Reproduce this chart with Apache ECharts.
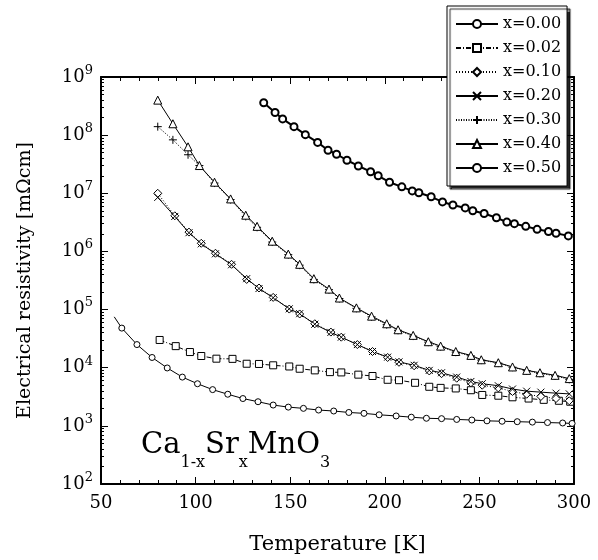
<!DOCTYPE html>
<html>
<head>
<meta charset="utf-8">
<script src="https://cdn.jsdelivr.net/npm/echarts@6/dist/echarts.min.js"></script>
<style>
html, body { margin: 0; padding: 0; background: #fff; }
#main { width: 598px; height: 560px; }
</style>
</head>
<body>
<div id="main"></div>
<script>
// legend names, one per Sr content
var names = ['x=0.00', 'x=0.02', 'x=0.10', 'x=0.20', 'x=0.30', 'x=0.40', 'x=0.50'];

// temperature [K] / resistivity [mOhm cm]
var t000 = [57, 61, 69, 77, 85, 93, 101, 109, 117, 125, 133, 141, 149, 157, 165, 173, 181, 189, 197, 206, 214, 222, 230, 238, 246, 254, 262, 270, 278, 286, 294, 299];
var r000 = [7.5e4, 4.8e4, 2.5e4, 1.5e4, 9.9e3, 6.9e3, 5.3e3, 4.2e3, 3.5e3, 2.95e3, 2.6e3, 2.28e3, 2.1e3, 2.0e3, 1.87e3, 1.8e3, 1.7e3, 1.64e3, 1.55e3, 1.48e3, 1.41e3, 1.35e3, 1.33e3, 1.29e3, 1.26e3, 1.22e3, 1.2e3, 1.18e3, 1.16e3, 1.14e3, 1.12e3, 1.1e3];

var t002 = [81, 89.5, 97, 103, 111, 119.5, 127, 133.5, 141, 149.5, 155, 163, 171, 177, 186, 193.5, 201.5, 207.5, 216, 223.5, 229.5, 237.5, 245.5, 251.5, 260, 267.5, 276, 284, 292, 298];
var r002 = [3.0e4, 2.35e4, 1.86e4, 1.59e4, 1.43e4, 1.42e4, 1.17e4, 1.16e4, 1.1e4, 1.05e4, 9.6e3, 9.0e3, 8.4e3, 8.3e3, 7.6e3, 7.2e3, 6.2e3, 6.1e3, 5.5e3, 4.7e3, 4.5e3, 4.4e3, 4.1e3, 3.4e3, 3.3e3, 3.1e3, 2.95e3, 2.8e3, 2.7e3, 2.6e3];

var tLow = [80, 89, 96.5, 103, 110.5, 119, 127, 133.5, 141, 149.5, 155, 163, 171.5, 177, 185.5, 193.5, 201.5, 207.5, 215.5, 223.5, 230, 238, 245.5, 251.5, 260, 267.5, 275, 282.5, 290.5, 297.5];
var r010 = [1.0e7, 4.1e6, 2.15e6, 1.38e6, 9.3e5, 6.0e5, 3.3e5, 2.35e5, 1.62e5, 1.02e5, 8.4e4, 5.7e4, 4.1e4, 3.35e4, 2.5e4, 1.9e4, 1.5e4, 1.24e4, 1.08e4, 8.8e3, 7.9e3, 6.6e3, 5.5e3, 5.0e3, 4.5e3, 3.9e3, 3.5e3, 3.2e3, 2.95e3, 2.7e3];
var r020 = [8.5e6, 4.0e6, 2.1e6, 1.35e6, 9.1e5, 5.9e5, 3.4e5, 2.3e5, 1.6e5, 1.03e5, 8.5e4, 5.6e4, 4.05e4, 3.35e4, 2.5e4, 1.9e4, 1.52e4, 1.26e4, 1.1e4, 9.0e3, 8.2e3, 6.9e3, 5.8e3, 5.3e3, 4.9e3, 4.3e3, 3.95e3, 3.8e3, 3.65e3, 3.55e3];

var tHigh = [80, 88, 96, 102, 110, 118.5, 126.5, 132.5, 140.5, 149, 155, 162.5, 170.5, 176, 185, 193, 201, 207, 215, 223, 229.5, 237.5, 245.5, 251, 260, 267.5, 275, 282, 290, 297.5];
var r030 = [1.4e8, 8.3e7, 4.6e7, 3.0e7, 1.5e7, 7.8e6, 4.0e6, 2.6e6, 1.45e6, 8.8e5, 5.8e5, 3.3e5, 2.2e5, 1.55e5, 1.05e5, 7.5e4, 5.5e4, 4.4e4, 3.5e4, 2.75e4, 2.3e4, 1.85e4, 1.6e4, 1.35e4, 1.2e4, 1.02e4, 8.9e3, 8.0e3, 7.2e3, 6.3e3];
var r040 = [4.0e8, 1.57e8, 6.3e7, 3.0e7, 1.55e7, 8.0e6, 4.2e6, 2.7e6, 1.5e6, 9.0e5, 6.0e5, 3.4e5, 2.25e5, 1.58e5, 1.07e5, 7.7e4, 5.7e4, 4.5e4, 3.6e4, 2.8e4, 2.35e4, 1.9e4, 1.63e4, 1.37e4, 1.22e4, 1.03e4, 9.0e3, 8.2e3, 7.4e3, 6.5e3];

var t050 = [136, 142, 146, 152, 158, 164.5, 170, 174.5, 180, 186, 192.5, 196.5, 202.5, 209, 214.5, 218, 224.5, 230.5, 236, 242.5, 246.5, 252.5, 259, 264.5, 268.5, 274.5, 280.5, 286.5, 290.5, 297];
var r050 = [3.6e8, 2.45e8, 1.9e8, 1.4e8, 1.02e8, 7.5e7, 5.5e7, 4.7e7, 3.7e7, 2.95e7, 2.35e7, 2.0e7, 1.55e7, 1.29e7, 1.1e7, 1.02e7, 8.7e6, 7.1e6, 6.3e6, 5.6e6, 5.0e6, 4.5e6, 3.8e6, 3.2e6, 3.0e6, 2.7e6, 2.4e6, 2.2e6, 2.05e6, 1.85e6];

var FONT = 'DejaVu Serif';
var CROSS = 'path://M0,0L10,10M10,0L0,10';
var PLUS = 'path://M5,0L5,10M0,5L10,5';

function pairs(t, r, bareFirst) {
	return t.map(function(v, i) {
		if (bareFirst && i === 0) {
			return { value: [v, r[i]], symbol: 'none' };
		}
		return [v, r[i]];
	});
}

function line(name, data, symbol, size, dash, width, border) {
	return {
		name: name,
		type: 'line',
		data: data,
		symbol: symbol,
		symbolSize: size,
		showAllSymbol: true,
		animation: false,
		lineStyle: { color: '#000', width: width || 1, type: dash || 'solid' },
		itemStyle: { color: '#fff', borderColor: '#000', borderWidth: border || 1 }
	};
}

var chart = echarts.init(document.getElementById('main'));

var frameLine = { lineStyle: { color: '#000', width: 2 } };

chart.setOption({
	backgroundColor: '#fff',
	animation: false,
	textStyle: { fontFamily: FONT, color: '#000' },
	grid: { left: 101, right: 24, top: 77, bottom: 74 },
	legend: {
		orient: 'vertical',
		left: 447,
		top: 6,
		data: names,
		itemWidth: 42,
		itemHeight: 10,
		itemGap: 8,
		padding: [10, 6, 10, 8],
		backgroundColor: '#fff',
		borderColor: '#000',
		borderWidth: 1,
		borderRadius: 0,
		shadowColor: 'rgba(0,0,0,0.85)',
		shadowBlur: 1,
		shadowOffsetX: 3,
		shadowOffsetY: 3,
		textStyle: { fontFamily: FONT, fontSize: 16, color: '#000' }
	},
	xAxis: [{
		type: 'value',
		min: 50,
		max: 300,
		interval: 50,
		position: 'bottom',
		name: 'Temperature [K]',
		nameLocation: 'middle',
		nameGap: 50,
		nameTextStyle: { fontFamily: FONT, fontSize: 21, color: '#000' },
		axisLine: frameLine,
		axisTick: { inside: true, length: 7, lineStyle: { color: '#000' } },
		minorTick: { show: true, splitNumber: 5, length: 4, lineStyle: { color: '#000' } },
		axisLabel: { margin: 10, fontFamily: FONT, fontSize: 18, color: '#000' },
		splitLine: { show: false }
	}, {
		type: 'value',
		min: 50,
		max: 300,
		interval: 50,
		position: 'top',
		axisLine: frameLine,
		axisTick: { inside: true, length: 7, lineStyle: { color: '#000' } },
		minorTick: { show: true, splitNumber: 5, length: 4, lineStyle: { color: '#000' } },
		axisLabel: { show: false },
		splitLine: { show: false }
	}],
	yAxis: [{
		type: 'log',
		logBase: 10,
		min: 1e2,
		max: 1e9,
		splitNumber: 7,
		position: 'left',
		name: 'Electrical resistivity [m\u03A9cm]',
		nameLocation: 'middle',
		nameGap: 66,
		nameTextStyle: { fontFamily: FONT, fontSize: 19, color: '#000' },
		axisLine: frameLine,
		axisTick: { inside: true, length: 7, lineStyle: { color: '#000' } },
		minorTick: { show: true, splitNumber: 9, length: 3, lineStyle: { color: '#000' } },
		axisLabel: {
			margin: 8,
			formatter: function(v) {
				return '{b|10}{s|' + Math.round(Math.log10(v)) + '}';
			},
			rich: {
				b: { fontFamily: FONT, fontSize: 18, lineHeight: 26, color: '#000' },
				s: { fontFamily: FONT, fontSize: 13, lineHeight: 14, verticalAlign: 'top', color: '#000' }
			}
		},
		splitLine: { show: false }
	}, {
		type: 'log',
		logBase: 10,
		min: 1e2,
		max: 1e9,
		splitNumber: 7,
		position: 'right',
		axisLine: frameLine,
		axisTick: { inside: true, length: 7, lineStyle: { color: '#000' } },
		minorTick: { show: true, splitNumber: 9, length: 3, lineStyle: { color: '#000' } },
		axisLabel: { show: false },
		splitLine: { show: false }
	}],
	graphic: [{
		type: 'text',
		left: 141,
		top: 420,
		silent: true,
		style: {
			text: '{m|Ca}{s|1-x}{m|Sr}{s|x}{m|MnO}{s|3}',
			rich: {
				m: { fontFamily: FONT, fontSize: 29, lineHeight: 30, fill: '#000' },
				s: { fontFamily: FONT, fontSize: 16, lineHeight: 16, padding: [35, 0, 0, 0], fill: '#000' }
			}
		}
	}],
	series: [
		line(names[0], pairs(t000, r000, true), 'circle', 6, 'solid'),
		line(names[1], pairs(t002, r002), 'rect', 7, [5, 2, 1, 2]),
		line(names[2], pairs(tLow, r010), 'diamond', 8, [1, 2]),
		line(names[3], pairs(tLow, r020), CROSS, 7, 'solid'),
		line(names[4], pairs(tHigh, r030), PLUS, 8, [1, 1.5]),
		line(names[5], pairs(tHigh, r040), 'triangle', 8, 'solid'),
		line(names[6], pairs(t050, r050), 'circle', 7, 'solid', 2, 2)
	]
});
</script>
</body>
</html>
